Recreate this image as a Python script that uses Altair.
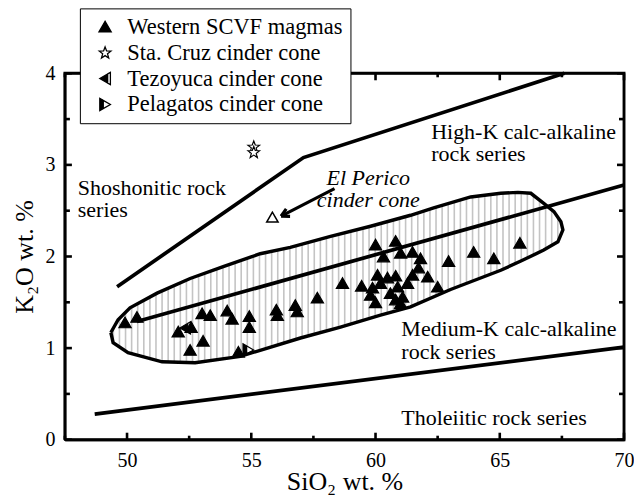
import math
import altair as alt
import pandas as pd

FONT = "Liberation Serif"

# ---------------- data ----------------
# Western SCVF magmas (filled triangles)
scvf_sio2 = [49.92, 50.40, 52.06, 52.58, 53.06, 52.54, 53.02, 53.35, 54.03, 54.23,
             54.92, 54.92, 54.48, 56.01, 56.05, 56.77, 56.85, 57.66, 58.67, 59.44,
             60.00, 60.81, 60.32, 61.01, 61.49, 61.81, 61.73, 62.10, 62.50, 62.94,
             63.95, 64.76, 65.81, 60.08, 60.20, 59.88, 60.48, 60.81, 60.89, 61.29,
             61.49, 59.80, 60.00, 60.60, 60.81, 61.09, 61.01]
scvf_k2o = [1.28, 1.34, 1.18, 1.23, 1.08, 0.98, 1.38, 1.36, 1.41, 1.32,
            1.35, 1.23, 0.96, 1.42, 1.36, 1.47, 1.40, 1.55, 1.71, 1.68,
            2.13, 2.17, 2.00, 2.04, 2.05, 1.98, 1.88, 1.78, 1.67, 1.95,
            2.05, 1.98, 2.15, 1.80, 1.71, 1.66, 1.77, 1.79, 1.67, 1.71,
            1.80, 1.58, 1.50, 1.60, 1.53, 1.56, 1.49]

stacruz_sio2 = [55.10, 55.10]
stacruz_k2o = [3.20, 3.14]
tezoyuca_sio2 = [52.34]
tezoyuca_k2o = [1.22]
pelagatos_sio2 = [54.88]
pelagatos_k2o = [0.98]
elperico_sio2 = [55.85]
elperico_k2o = [2.43]

series_names = ["Western SCVF magmas", "Sta. Cruz cinder cone",
                "Tezoyuca cinder cone", "Pelagatos cinder cone"]

# rock-series boundary lines
b1_sio2 = [49.6, 57.1, 67.6]
b1_k2o = [1.67, 3.08, 4.00]
b2_sio2 = [50.4, 70.0]
b2_k2o = [1.29, 2.78]
b3_sio2 = [48.7, 70.0]
b3_k2o = [0.28, 1.01]

# outline of the hatched field (closed)
field_sio2 = [49.35, 49.64, 50.12, 51.21, 52.54, 53.87, 55.36, 56.57, 58.19, 59.80,
              61.41, 62.34, 63.83, 65.04, 65.73, 66.25, 66.77, 67.18, 67.46, 67.54,
              67.34, 66.77, 65.85, 65.04, 63.02, 61.41, 60.20, 58.59, 56.98, 54.56,
              52.74, 51.41, 50.04, 49.44]
field_k2o = [1.17, 1.31, 1.44, 1.60, 1.76, 1.89, 2.03, 2.10, 2.22, 2.33,
             2.45, 2.53, 2.65, 2.69, 2.70, 2.69, 2.58, 2.49, 2.38, 2.29,
             2.16, 2.07, 1.95, 1.85, 1.64, 1.45, 1.36, 1.23, 1.11, 0.91,
             0.84, 0.85, 0.95, 1.06]

# axis ticks
x_major = [50, 55, 60, 65, 70]
x_minor = [47.5, 52.5, 57.5, 62.5, 67.5]
y_major = [0, 1, 2, 3, 4]
y_minor = [0.5, 1.5, 2.5, 3.5]

# text annotations
label_text = ["Shoshonitic rock", "series", "High-K calc-alkaline", "rock series",
              "Medium-K calc-alkaline", "rock series", "Tholeiitic rock series"]
label_sio2 = [48.02, 48.02, 62.24, 62.24, 61.04, 61.04, 61.04]
label_k2o = [2.75, 2.51, 3.36, 3.12, 1.21, 0.96, 0.24]
perico_text = ["El Perico", "cinder cone"]
perico_sio2 = [59.71, 59.71]
perico_k2o = [2.855, 2.615]
arrow_sio2 = [58.35, 56.20]
arrow_k2o = [2.74, 2.44]

# ---------------- build tables ----------------
W, H = 560, 367
XD, YD = [47.5, 70], [0, 4]
PX = W / (XD[1] - XD[0])
PY = H / (YD[1] - YD[0])
xs = alt.Scale(domain=XD, nice=False, zero=False)
ys = alt.Scale(domain=YD, nice=False, zero=False)

def px2x(p):
    return XD[0] + p / PX

def py2y(p):
    return YD[1] - p / PY

# custom symbols (unit-square paths)
star_pts = []
for k in range(10):
    r = 1.0 if k % 2 == 0 else 0.42
    a = math.radians(-90 + 36 * k)
    star_pts.append(f"{r * math.cos(a):.3f},{r * math.sin(a) + 0.08:.3f}")
STAR = "M" + " L".join(star_pts) + " Z"
# left-pointing triangle, black with a white strip on the right (hole)
TRI_L_HALF = ("M -0.866 0 L 0.866 -1 L 0.866 1 Z "
              "M 0.42 -0.745 L 0.42 0.745 L 0.866 1 L 0.866 -1 Z")
# right-pointing triangle, black strip on the left, rest white (hole)
TRI_R_HALF = ("M 0.866 0 L -0.866 1 L -0.866 -1 Z "
              "M 0.866 0 L -0.3 -0.673 L -0.3 0.673 Z")

pts = []
for n, (sx, sy) in zip(series_names, [(scvf_sio2, scvf_k2o), (stacruz_sio2, stacruz_k2o),
                                      (tezoyuca_sio2, tezoyuca_k2o), (pelagatos_sio2, pelagatos_k2o)]):
    for a, b in zip(sx, sy):
        pts.append({"SiO2": a, "K2O": b, "series": n})
pts = pd.DataFrame(pts)

# all line-like elements in one table (segment id + order)
segs = []
def add_line(xv, yv, sid, kind):
    for j, (a, b) in enumerate(zip(xv, yv)):
        segs.append({"SiO2": a, "K2O": b, "seg": sid, "o": j, "kind": kind})

# legend-box shadow (right and bottom edges, px offsets from the legend box)
add_line([px2x(264.5), px2x(264.5), px2x(20)],
         [py2y(-60), py2y(46.5), py2y(46.5)], "shadow", "shadow")
add_line(b1_sio2, b1_k2o, "b1", "bound")
add_line(b2_sio2, b2_k2o, "b2", "bound")
add_line(b3_sio2, b3_k2o, "b3", "bound")
poly = list(zip(field_sio2, field_k2o)) + [(field_sio2[0], field_k2o[0])]
add_line([p[0] for p in poly], [p[1] for p in poly], "field", "field")
add_line(arrow_sio2, arrow_k2o, "arrow", "arrow")
# open arrow head, derived from the arrow direction
dxp = (arrow_sio2[1] - arrow_sio2[0]) * PX
dyp = (arrow_k2o[1] - arrow_k2o[0]) * PY
L = math.hypot(dxp, dyp)
ux, uy = dxp / L, dyp / L
for sgn, sid in [(1, "h1"), (-1, "h2")]:
    ca, sa = math.cos(math.radians(28)), math.sin(math.radians(28)) * sgn
    bx = -(ux * ca - uy * sa) * 9
    by = -(ux * sa + uy * ca) * 9
    add_line([arrow_sio2[1] + bx / PX, arrow_sio2[1]],
             [arrow_k2o[1] + by / PY, arrow_k2o[1]], sid, "arrow")
# plot frame
add_line([XD[0], XD[1], XD[1], XD[0], XD[0]], [YD[0], YD[0], YD[1], YD[1], YD[0]],
         "frame", "frame")
# inward ticks on all four sides
for v, ln in [(v, 7) for v in x_major] + [(v, 4) for v in x_minor]:
    add_line([v, v], [YD[0], YD[0] + ln / PY], f"xb{v}", "tick")
    add_line([v, v], [YD[1], YD[1] - ln / PY], f"xt{v}", "tick")
for v, ln in [(v, 7) for v in y_major] + [(v, 5) for v in y_minor]:
    add_line([XD[0], XD[0] + ln / PX], [v, v], f"yl{v}", "tick")
    add_line([XD[1], XD[1] - ln / PX], [v, v], f"yr{v}", "tick")
segs = pd.DataFrame(segs)

# vertical hatching derived from the outline
hatch = []
hx = 49.45
while hx < max(field_sio2):
    hits = []
    for (x1, y1), (x2, y2) in zip(poly[:-1], poly[1:]):
        if x1 != x2 and (x1 - hx) * (x2 - hx) <= 0:
            t = (hx - x1) / (x2 - x1)
            hits.append(y1 + t * (y2 - y1))
    if len(hits) >= 2:
        hatch.append({"SiO2": hx, "lo": min(hits), "hi": max(hits)})
    hx += 0.245
hatch = pd.DataFrame(hatch)

x_axis = alt.Axis(values=x_major, ticks=False, grid=False, format="d",
                  domain=True, domainColor="black", domainWidth=2,
                  labelFont=FONT, labelFontSize=20, labelColor="black",
                  labelPadding=11, labelFlush=False,
                  titleFont=FONT, titleFontSize=26, titleFontWeight="normal",
                  titleColor="black", titlePadding=-2)
y_axis = alt.Axis(values=y_major, ticks=False, grid=False, format="d",
                  domain=True, domainColor="black", domainWidth=2,
                  labelFont=FONT, labelFontSize=20, labelColor="black",
                  labelPadding=10, labelFlush=False,
                  titleFont=FONT, titleFontSize=26, titleFontWeight="normal",
                  titleColor="black", titlePadding=7)
Xn = alt.X("SiO2:Q", scale=xs)
Yn = alt.Y("K2O:Q", scale=ys)

hatch_layer = alt.Chart(hatch).mark_rule(color="#c4c4c4", strokeWidth=1.6).encode(
    x=alt.X("SiO2:Q", scale=xs, axis=x_axis, title="SiO₂ wt. %"),
    y=alt.Y("lo:Q", scale=ys, axis=y_axis, title="K₂O wt. %"), y2="hi:Q")

kinds = ["shadow", "bound", "field", "arrow", "frame", "tick"]
seg_layer = alt.Chart(segs).mark_line().encode(
    x=Xn, y=Yn, detail="seg:N", order="o:Q",
    strokeWidth=alt.StrokeWidth("kind:N", legend=None,
                                scale=alt.Scale(domain=kinds,
                                                range=[4, 2.6, 2.2, 1.1, 2, 1.3])),
    color=alt.Color("kind:N", legend=None,
                    scale=alt.Scale(domain=kinds,
                                    range=["#b8b8b8", "black", "black", "black", "black", "black"])))

leg = alt.Legend(title=None, orient="none", legendX=15, legendY=-65,
                 fillColor="white", strokeColor="black", padding=7,
                 labelFont=FONT, labelFontSize=22.5, labelColor="black",
                 rowPadding=3, symbolSize=150, symbolStrokeWidth=1.3,
                 symbolStrokeColor="black",
                 symbolOffset=7, labelOffset=11, labelLimit=400)

point_layer = alt.Chart(pts).mark_point(filled=True, opacity=1, size=150,
                                         strokeWidth=1.2).encode(
    x=Xn, y=Yn,
    shape=alt.Shape("series:N", legend=leg,
                    scale=alt.Scale(domain=series_names,
                                    range=["triangle-up", STAR, TRI_L_HALF, TRI_R_HALF])),
    fill=alt.Fill("series:N", legend=leg,
                  scale=alt.Scale(domain=series_names,
                                  range=["black", "white", "black", "black"])),
    stroke=alt.Stroke("series:N", legend=leg,
                      scale=alt.Scale(domain=series_names,
                                      range=["black", "black", "black", "black"])))

perico_layer = alt.Chart(pd.DataFrame({"SiO2": elperico_sio2, "K2O": elperico_k2o})).mark_point(
    shape="triangle-up", filled=True, fill="white", stroke="black", strokeWidth=1.5,
    size=130, opacity=1).encode(x=Xn, y=Yn)

labels_df = pd.DataFrame({"t": label_text, "SiO2": label_sio2, "K2O": label_k2o})
text_layer = alt.Chart(labels_df).mark_text(
    align="left", baseline="middle", font=FONT, fontSize=22, color="black").encode(
    x=Xn, y=Yn, text="t:N")

perico_df = pd.DataFrame({"t": perico_text, "SiO2": perico_sio2, "K2O": perico_k2o})
perico_text_layer = alt.Chart(perico_df).mark_text(
    align="center", baseline="middle", font=FONT, fontSize=22, fontStyle="italic",
    color="black").encode(x=Xn, y=Yn, text="t:N")

chart = alt.layer(
    hatch_layer, seg_layer, text_layer, perico_text_layer, perico_layer, point_layer
).properties(
    width=W, height=H,
    autosize=alt.AutoSizeParams(type="none"),
    padding={"left": 57, "top": 65, "right": 10, "bottom": 58},
).configure(background="white").configure_view(stroke="black", strokeWidth=2)

chart.save("out.html", embed_options={"renderer": "svg", "actions": False})
